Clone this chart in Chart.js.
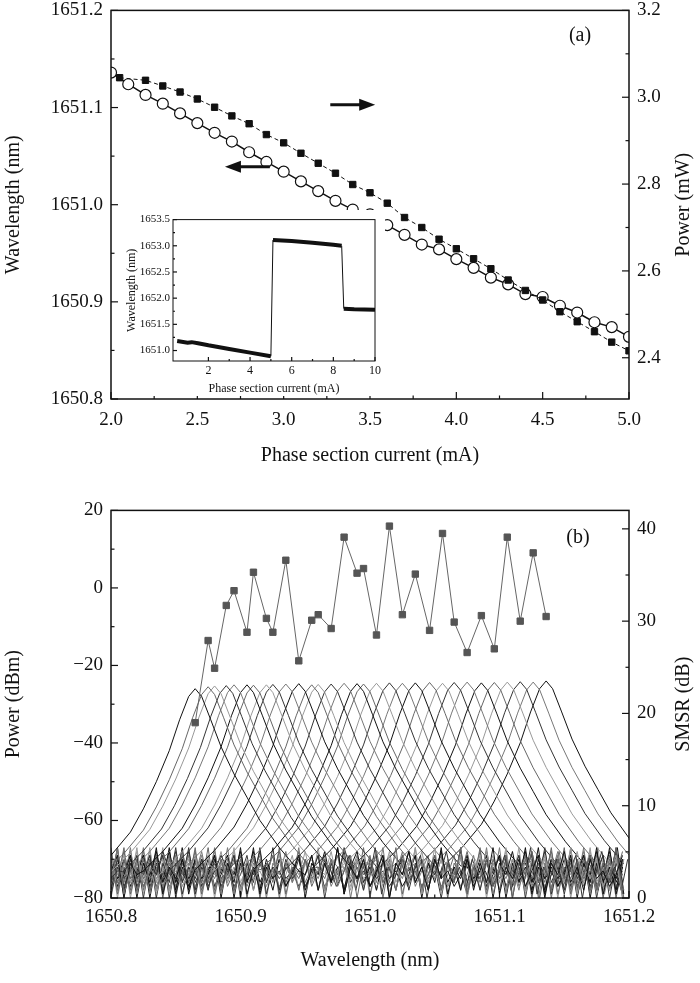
<!DOCTYPE html>
<html>
<head>
<meta charset="utf-8">
<script src="https://cdn.jsdelivr.net/npm/chart.js@4"></script>
<style>
  body { margin: 0; background: #fff; width: 700px; height: 983px; position: relative; overflow: hidden; }
  canvas { position: absolute; }
  #chartA { left: 0; top: -9px; }
  #inset { left: 125px; top: 210px; background: #fff; }
  #chartB { left: 0; top: 491px; }
</style>
</head>
<body>
<canvas id="chartA" width="700" height="479"></canvas>
<canvas id="inset" width="260" height="186"></canvas>
<canvas id="chartB" width="700" height="492"></canvas>
<script>
// ---- panel (a): wavelength (circles) and power (squares) vs phase current
const currentA = [2.0, 2.1, 2.2, 2.3, 2.4, 2.5, 2.6, 2.7, 2.8, 2.9, 3.0, 3.1, 3.2, 3.3, 3.4, 3.5,
  3.6, 3.7, 3.8, 3.9, 4.0, 4.1, 4.2, 4.3, 4.4, 4.5, 4.6, 4.7, 4.8, 4.9, 5.0];
const wavelengthA = [1651.136, 1651.124, 1651.113, 1651.104, 1651.094, 1651.084, 1651.074, 1651.065,
  1651.054, 1651.044, 1651.034, 1651.024, 1651.014, 1651.004, 1650.995, 1650.990, 1650.979, 1650.969,
  1650.959, 1650.954, 1650.944, 1650.935, 1650.925, 1650.918, 1650.908, 1650.905, 1650.896, 1650.889,
  1650.879, 1650.874, 1650.864];
const currentP = [2.05, 2.2, 2.3, 2.4, 2.5, 2.6, 2.7, 2.8, 2.9, 3.0, 3.1, 3.2, 3.3, 3.4, 3.5,
  3.6, 3.7, 3.8, 3.9, 4.0, 4.1, 4.2, 4.3, 4.4, 4.5, 4.6, 4.7, 4.8, 4.9, 5.0];
const powerA = [3.045, 3.039, 3.026, 3.012, 2.996, 2.977, 2.957, 2.939, 2.914, 2.895, 2.871, 2.848,
  2.825, 2.799, 2.780, 2.756, 2.723, 2.700, 2.673, 2.651, 2.628, 2.605, 2.579, 2.555, 2.533, 2.506,
  2.483, 2.460, 2.436, 2.416];
const ticksWlA = [1650.8, 1650.9, 1651.0, 1651.1, 1651.2];
const ticksPowA = [2.4, 2.6, 2.8, 3.0, 3.2];
const ticksCurA = [2.0, 2.5, 3.0, 3.5, 4.0, 4.5, 5.0];
// arrows: [x from, x to, wavelength level]
const arrowsA = [[2.92, 2.66, 1651.039], [3.27, 3.53, 1651.103]];

// ---- inset: wide range tuning
const insetCurrent = [0.5, 1.0, 1.2, 1.5, 2.0, 3.0, 4.0, 5.0, 5.1, 6.0, 7.0, 8.0, 8.4, 8.5, 9.0, 10.0];
const insetWl = [1651.18, 1651.15, 1651.16, 1651.14, 1651.10, 1651.03, 1650.96, 1650.89, 1653.11,
  1653.09, 1653.06, 1653.02, 1653.00, 1651.80, 1651.79, 1651.78];

// ---- panel (b): tuned spectra and SMSR
const peakWl = [1650.865, 1650.875, 1650.880, 1650.889, 1650.895, 1650.905, 1650.910, 1650.920,
  1650.925, 1650.935, 1650.945, 1650.955, 1650.960, 1650.970, 1650.980, 1650.990, 1650.995,
  1651.005, 1651.015, 1651.025, 1651.035, 1651.046, 1651.056, 1651.065, 1651.075, 1651.086,
  1651.096, 1651.106, 1651.116, 1651.126, 1651.136];
const smsr = [19.0, 27.9, 24.9, 31.7, 33.3, 28.8, 35.3, 30.3, 28.8, 36.6, 25.7, 30.1, 30.7, 29.2,
  39.1, 35.2, 35.7, 28.5, 40.3, 30.7, 35.1, 29.0, 39.5, 29.9, 26.6, 30.6, 27.0, 39.1, 30.0, 37.4, 30.5];
const peakPower = [-26.0, -25.5, -25.3, -25.2, -25.0, -25.0, -25.1, -25.0, -24.9, -24.8, -24.7,
  -25.0, -24.9, -24.8, -24.6, -24.7, -24.8, -24.6, -24.5, -24.6, -24.5, -24.4, -24.6, -24.4,
  -24.3, -24.5, -24.4, -24.3, -24.2, -24.3, -24.0];
// measured line shape around each peak (nm offset, dB below peak)
const shapeOffset = [-0.08, -0.065, -0.05, -0.04, -0.03, -0.02, -0.012, -0.005, 0,
  0.005, 0.012, 0.02, 0.03, 0.04, 0.05, 0.065, 0.08];
const shapeDb = [-48, -43, -37, -31, -24, -16, -8, -2, 0, -2, -8, -15, -22, -28, -34, -41, -47];
const noiseFloor = [-74, -69, -78, -71, -76, -67, -79, -72, -75, -70, -77, -73, -69, -80, -71, -74,
  -68, -76, -72, -78, -70, -75, -73, -77];
const traceColors = ['#111', '#666', '#999', '#333', '#777'];
const ticksWlB = [1650.8, 1650.9, 1651.0, 1651.1, 1651.2];
const ticksPowB = [-80, -60, -40, -20, 0, 20];
const ticksSmsr = [0, 10, 20, 30, 40];

const serif = "'Liberation Serif', 'DejaVu Serif', serif";
Chart.defaults.font.family = serif;
Chart.defaults.color = '#111';

function fixedTicks(vals) {
  return scale => { scale.ticks = vals.map(v => ({value: v})); };
}
function fmt(d) {
  return v => (v < 0 ? '\u2212' : '') + Math.abs(v).toFixed(d);
}

// box, inward ticks, rotated right title, arrows, panel tag
const decor = {
  id: 'decor',
  afterDraw(chart, args, o) {
    const ctx = chart.ctx, a = chart.chartArea;
    ctx.save();
    ctx.strokeStyle = '#111';
    ctx.lineWidth = o.lw || 1.5;
    ctx.strokeRect(a.left, a.top, a.right - a.left, a.bottom - a.top);
    ctx.lineWidth = 1.2;
    Object.values(chart.scales).forEach(s => {
      const vals = s.ticks.map(t => t.value);
      const minors = [];
      for (let i = 0; i < vals.length - 1; i++) minors.push((vals[i] + vals[i + 1]) / 2);
      const draw = (v, len) => {
        const p = s.getPixelForValue(v);
        ctx.beginPath();
        if (s.position === 'bottom') { ctx.moveTo(p, a.bottom); ctx.lineTo(p, a.bottom - len); }
        else if (s.position === 'left') { ctx.moveTo(a.left, p); ctx.lineTo(a.left + len, p); }
        else { ctx.moveTo(a.right, p); ctx.lineTo(a.right - len, p); }
        ctx.stroke();
      };
      const big = o.tick || 7;
      vals.forEach(v => draw(v, big));
      minors.forEach(v => draw(v, big / 2));
    });
    if (o.rightTitle) {
      ctx.save();
      ctx.fillStyle = '#111';
      ctx.font = o.titleFont;
      ctx.textAlign = 'center';
      ctx.textBaseline = 'middle';
      ctx.translate(o.rightTitleX, (a.top + a.bottom) / 2);
      ctx.rotate(-Math.PI / 2);
      ctx.fillText(o.rightTitle, 0, 0);
      ctx.restore();
    }
    if (o.tag) {
      ctx.fillStyle = '#111';
      ctx.font = '20px ' + serif;
      ctx.textAlign = 'center';
      ctx.textBaseline = 'middle';
      ctx.fillText(o.tag, o.tagX, o.tagY);
    }
    (o.arrows || []).forEach(([x0, x1, yv]) => {
      const xs = chart.scales.x, ys = chart.scales.y;
      const p0 = xs.getPixelForValue(x0), p1 = xs.getPixelForValue(x1), py = ys.getPixelForValue(yv);
      const dir = Math.sign(p1 - p0);
      ctx.lineWidth = 3;
      ctx.beginPath(); ctx.moveTo(p0, py); ctx.lineTo(p1 - dir * 10, py); ctx.stroke();
      ctx.fillStyle = '#111';
      ctx.beginPath();
      ctx.moveTo(p1, py); ctx.lineTo(p1 - dir * 16, py - 6); ctx.lineTo(p1 - dir * 16, py + 6);
      ctx.closePath(); ctx.fill();
    });
    ctx.restore();
  }
};

const tickFont = {size: 19, family: serif};
const titleFont = {size: 20, family: serif};

new Chart(document.getElementById('chartA'), {
  type: 'line',
  data: {
    datasets: [
      {
        data: currentP.map((x, i) => ({x, y: powerA[i]})), yAxisID: 'y2',
        borderColor: '#111', borderWidth: 1, borderDash: [4, 3],
        pointStyle: 'rect', pointRadius: 4.5, pointBackgroundColor: '#111', pointBorderColor: '#111'
      },
      {
        data: currentA.map((x, i) => ({x, y: wavelengthA[i]})), yAxisID: 'y',
        borderColor: '#111', borderWidth: 1.5,
        pointStyle: 'circle', pointRadius: 5.5, pointBackgroundColor: '#fff', pointBorderColor: '#111', pointBorderWidth: 1.2
      }
    ]
  },
  options: {
    responsive: false, animation: false,
    layout: {padding: 0},
    plugins: {
      legend: {display: false}, tooltip: {enabled: false},
      decor: {rightTitle: 'Power (mW)', rightTitleX: 684, titleFont: '20px ' + serif,
        tag: '(a)', tagX: 580, tagY: 45, arrows: arrowsA}
    },
    scales: {
      x: {
        type: 'linear', min: 2, max: 5,
        afterBuildTicks: fixedTicks(ticksCurA),
        afterFit: s => { s.height = 71; },
        grid: {display: false, drawTicks: false}, border: {display: false},
        ticks: {font: tickFont, padding: 10, maxRotation: 0, callback: fmt(1)},
        title: {display: true, text: 'Phase section current (mA)', font: titleFont, padding: {top: 4, bottom: 2}}
      },
      y: {
        position: 'left', min: 1650.8, max: 1651.2,
        afterBuildTicks: fixedTicks(ticksWlA),
        afterFit: s => { s.width = 111; },
        grid: {display: false, drawTicks: false}, border: {display: false},
        ticks: {font: tickFont, padding: 8, callback: fmt(1)},
        title: {display: true, text: 'Wavelength (nm)', font: titleFont, padding: 2}
      },
      y2: {
        position: 'right', min: 2.305, max: 3.2,
        afterBuildTicks: fixedTicks(ticksPowA),
        afterFit: s => { s.width = 71; },
        grid: {display: false, drawTicks: false}, border: {display: false},
        ticks: {font: tickFont, padding: 8, callback: fmt(1)}
      }
    }
  },
  plugins: [decor]
});

new Chart(document.getElementById('inset'), {
  type: 'line',
  data: {
    datasets: [{
      data: insetCurrent.map((x, i) => ({x, y: insetWl[i]})),
      borderColor: '#111', borderWidth: 1, pointRadius: 0,
      segment: {borderWidth: c => (Math.abs(c.p1.parsed.y - c.p0.parsed.y) > 0.5 ? 1 : 4)}
    }]
  },
  options: {
    responsive: false, animation: false,
    layout: {padding: {top: 8, right: 10}},
    plugins: {legend: {display: false}, tooltip: {enabled: false}, decor: {lw: 1, tick: 4}},
    scales: {
      x: {
        type: 'linear', min: 0.3, max: 10,
        afterBuildTicks: fixedTicks([2, 4, 6, 8, 10]),
        afterFit: s => { s.height = 35; },
        grid: {display: false, drawTicks: false}, border: {display: false},
        ticks: {font: {size: 12, family: serif}, padding: 3, maxRotation: 0},
        title: {display: true, text: 'Phase section current (mA)', font: {size: 12, family: serif}, padding: 0}
      },
      y: {
        min: 1650.8, max: 1653.5,
        afterBuildTicks: fixedTicks([1651.0, 1651.5, 1652.0, 1652.5, 1653.0, 1653.5]),
        afterFit: s => { s.width = 48; },
        grid: {display: false, drawTicks: false}, border: {display: false},
        ticks: {font: {size: 11, family: serif}, padding: 3, callback: fmt(1)},
        title: {display: true, text: 'Wavelength (nm)', font: {size: 12, family: serif}, padding: 0}
      }
    }
  },
  plugins: [decor]
});

// spectra: measured line shape shifted to each peak, noise floor outside it
const spectra = peakWl.map((c, k) => {
  const pts = [];
  let n = k * 7;
  for (let x = 1650.8; x < c + shapeOffset[0]; x += 0.005) pts.push({x, y: noiseFloor[n++ % noiseFloor.length]});
  shapeOffset.forEach((d, i) => pts.push({x: c + d, y: peakPower[k] + shapeDb[i]}));
  for (let x = c + shapeOffset[shapeOffset.length - 1] + 0.005; x <= 1651.2; x += 0.005) pts.push({x, y: noiseFloor[n++ % noiseFloor.length]});
  return {
    data: pts, yAxisID: 'y', borderColor: traceColors[k % traceColors.length],
    borderWidth: 1, pointRadius: 0, tension: 0
  };
});

new Chart(document.getElementById('chartB'), {
  type: 'line',
  data: {
    datasets: [{
      data: peakWl.map((x, i) => ({x, y: smsr[i]})), yAxisID: 'y2',
      borderColor: '#666', borderWidth: 1,
      pointStyle: 'rect', pointRadius: 4.5, pointBackgroundColor: '#555', pointBorderColor: '#555'
    }].concat(spectra)
  },
  options: {
    responsive: false, animation: false,
    layout: {padding: 0},
    plugins: {
      legend: {display: false}, tooltip: {enabled: false},
      decor: {rightTitle: 'SMSR (dB)', rightTitleX: 684, titleFont: '20px ' + serif, tag: '(b)', tagX: 578, tagY: 47}
    },
    scales: {
      x: {
        type: 'linear', min: 1650.8, max: 1651.2,
        afterBuildTicks: fixedTicks(ticksWlB),
        afterFit: s => { s.height = 85; },
        grid: {display: false, drawTicks: false}, border: {display: false},
        ticks: {font: tickFont, padding: 8, maxRotation: 0, callback: fmt(1)},
        title: {display: true, text: 'Wavelength (nm)', font: titleFont, padding: {top: 4, bottom: 10}}
      },
      y: {
        position: 'left', min: -80, max: 20,
        afterBuildTicks: fixedTicks(ticksPowB),
        afterFit: s => { s.width = 111; },
        grid: {display: false, drawTicks: false}, border: {display: false},
        ticks: {font: tickFont, padding: 8, callback: fmt(0)},
        title: {display: true, text: 'Power (dBm)', font: titleFont, padding: 2}
      },
      y2: {
        position: 'right', min: 0, max: 42,
        afterBuildTicks: fixedTicks(ticksSmsr),
        afterFit: s => { s.width = 71; },
        grid: {display: false, drawTicks: false}, border: {display: false},
        ticks: {font: tickFont, padding: 8, callback: fmt(0)}
      }
    }
  },
  plugins: [decor]
});
</script>
</body>
</html>
